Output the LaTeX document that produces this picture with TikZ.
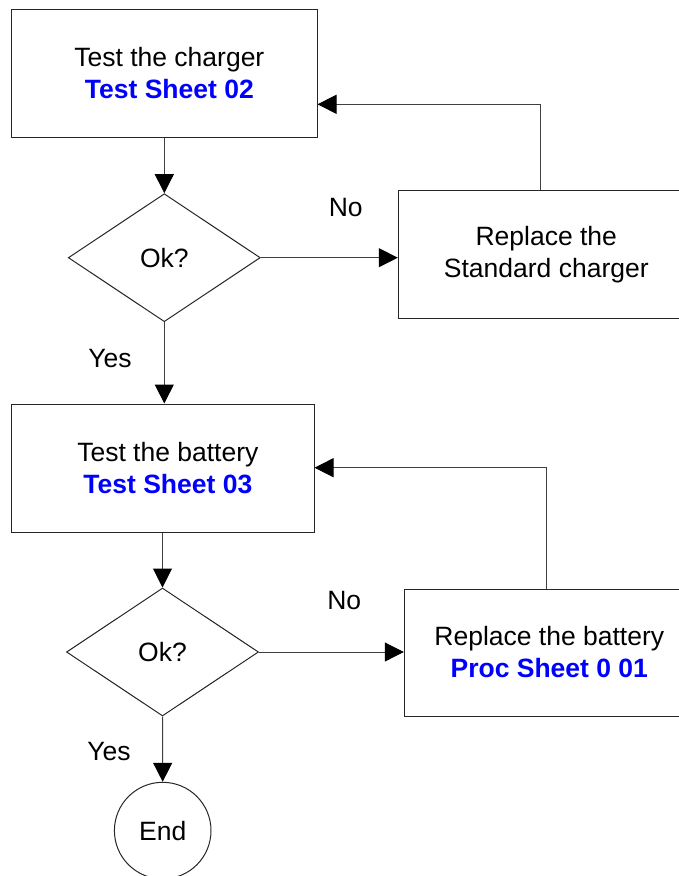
\documentclass[tikz,border=0pt]{standalone}
\usepackage{fontspec}
\setmainfont{Liberation Sans}
\usetikzlibrary{shapes.geometric,arrows.meta}
\begin{document}
\begin{tikzpicture}[x=1pt,y=-1pt,
  every node/.style={font=\fontsize{26.5}{32}\selectfont},
  boxnode/.style={draw=black!85,line width=1pt,rectangle,inner sep=0pt,align=center},
  decnode/.style={draw=black!85,line width=1pt,diamond,inner sep=0pt,minimum width=192pt,minimum height=128pt},
  endnode/.style={draw=black!85,line width=1pt,circle,inner sep=0pt,minimum size=96.6pt},
  lbl/.style={inner sep=0pt},
  arr/.style={draw=black!75,line width=1pt,-{Triangle[length=19pt,width=19pt,color=black]}}]
\useasboundingbox (0,0) rectangle (678,876);
\node[boxnode,minimum width=305.3pt,minimum height=127.5pt] (b1) at (164.35,73.25)
  {\hspace*{10pt}Test the charger\\ \hspace*{10pt}{\color{blue}\bfseries Test Sheet 02}};
\node[decnode] (d1) at (164.3,257.7) {Ok?};
\node[boxnode,minimum width=296pt,minimum height=127.3pt] (b2) at (546.3,254.4)
  {Replace the\\ Standard charger};
\node[boxnode,minimum width=302.3pt,minimum height=128.3pt] (b3) at (162.85,468.15)
  {\hspace*{10pt}Test the battery\\ \hspace*{10pt}{\color{blue}\bfseries Test Sheet 03}};
\node[decnode] (d2) at (162.5,652) {Ok?};
\node[boxnode,minimum width=290pt,minimum height=127pt] (b4) at (549.3,652.5)
  {Replace the battery\\ {\color{blue}\bfseries Proc Sheet 0 01}};
\node[endnode] (e) at (162.7,830.6) {End};
\node[lbl] (no1) at (345.7,208) {No};
\node[lbl] (no2) at (344.3,601) {No};
\node[lbl] (yes1) at (110,359) {Yes};
\node[lbl] (yes2) at (109,752) {Yes};
\coordinate (k1) at (540.7,104.3);
\coordinate (k2) at (546.7,467.7);
\draw[arr] (b1.south -| d1.north) -- (d1.north);
\draw[arr] (d1.east) -- (d1.east -| b2.west);
\draw[arr] (k1 |- b2.north) -- (k1) -- (k1 -| b1.east);
\draw[arr] (d1.south) -- (d1.south |- b3.north);
\draw[arr] (d2.north |- b3.south) -- (d2.north);
\draw[arr] (d2.east) -- (d2.east -| b4.west);
\draw[arr] (k2 |- b4.north) -- (k2) -- (k2 -| b3.east);
\draw[arr] (d2.south) -- (e.north);
\end{tikzpicture}
\end{document}
